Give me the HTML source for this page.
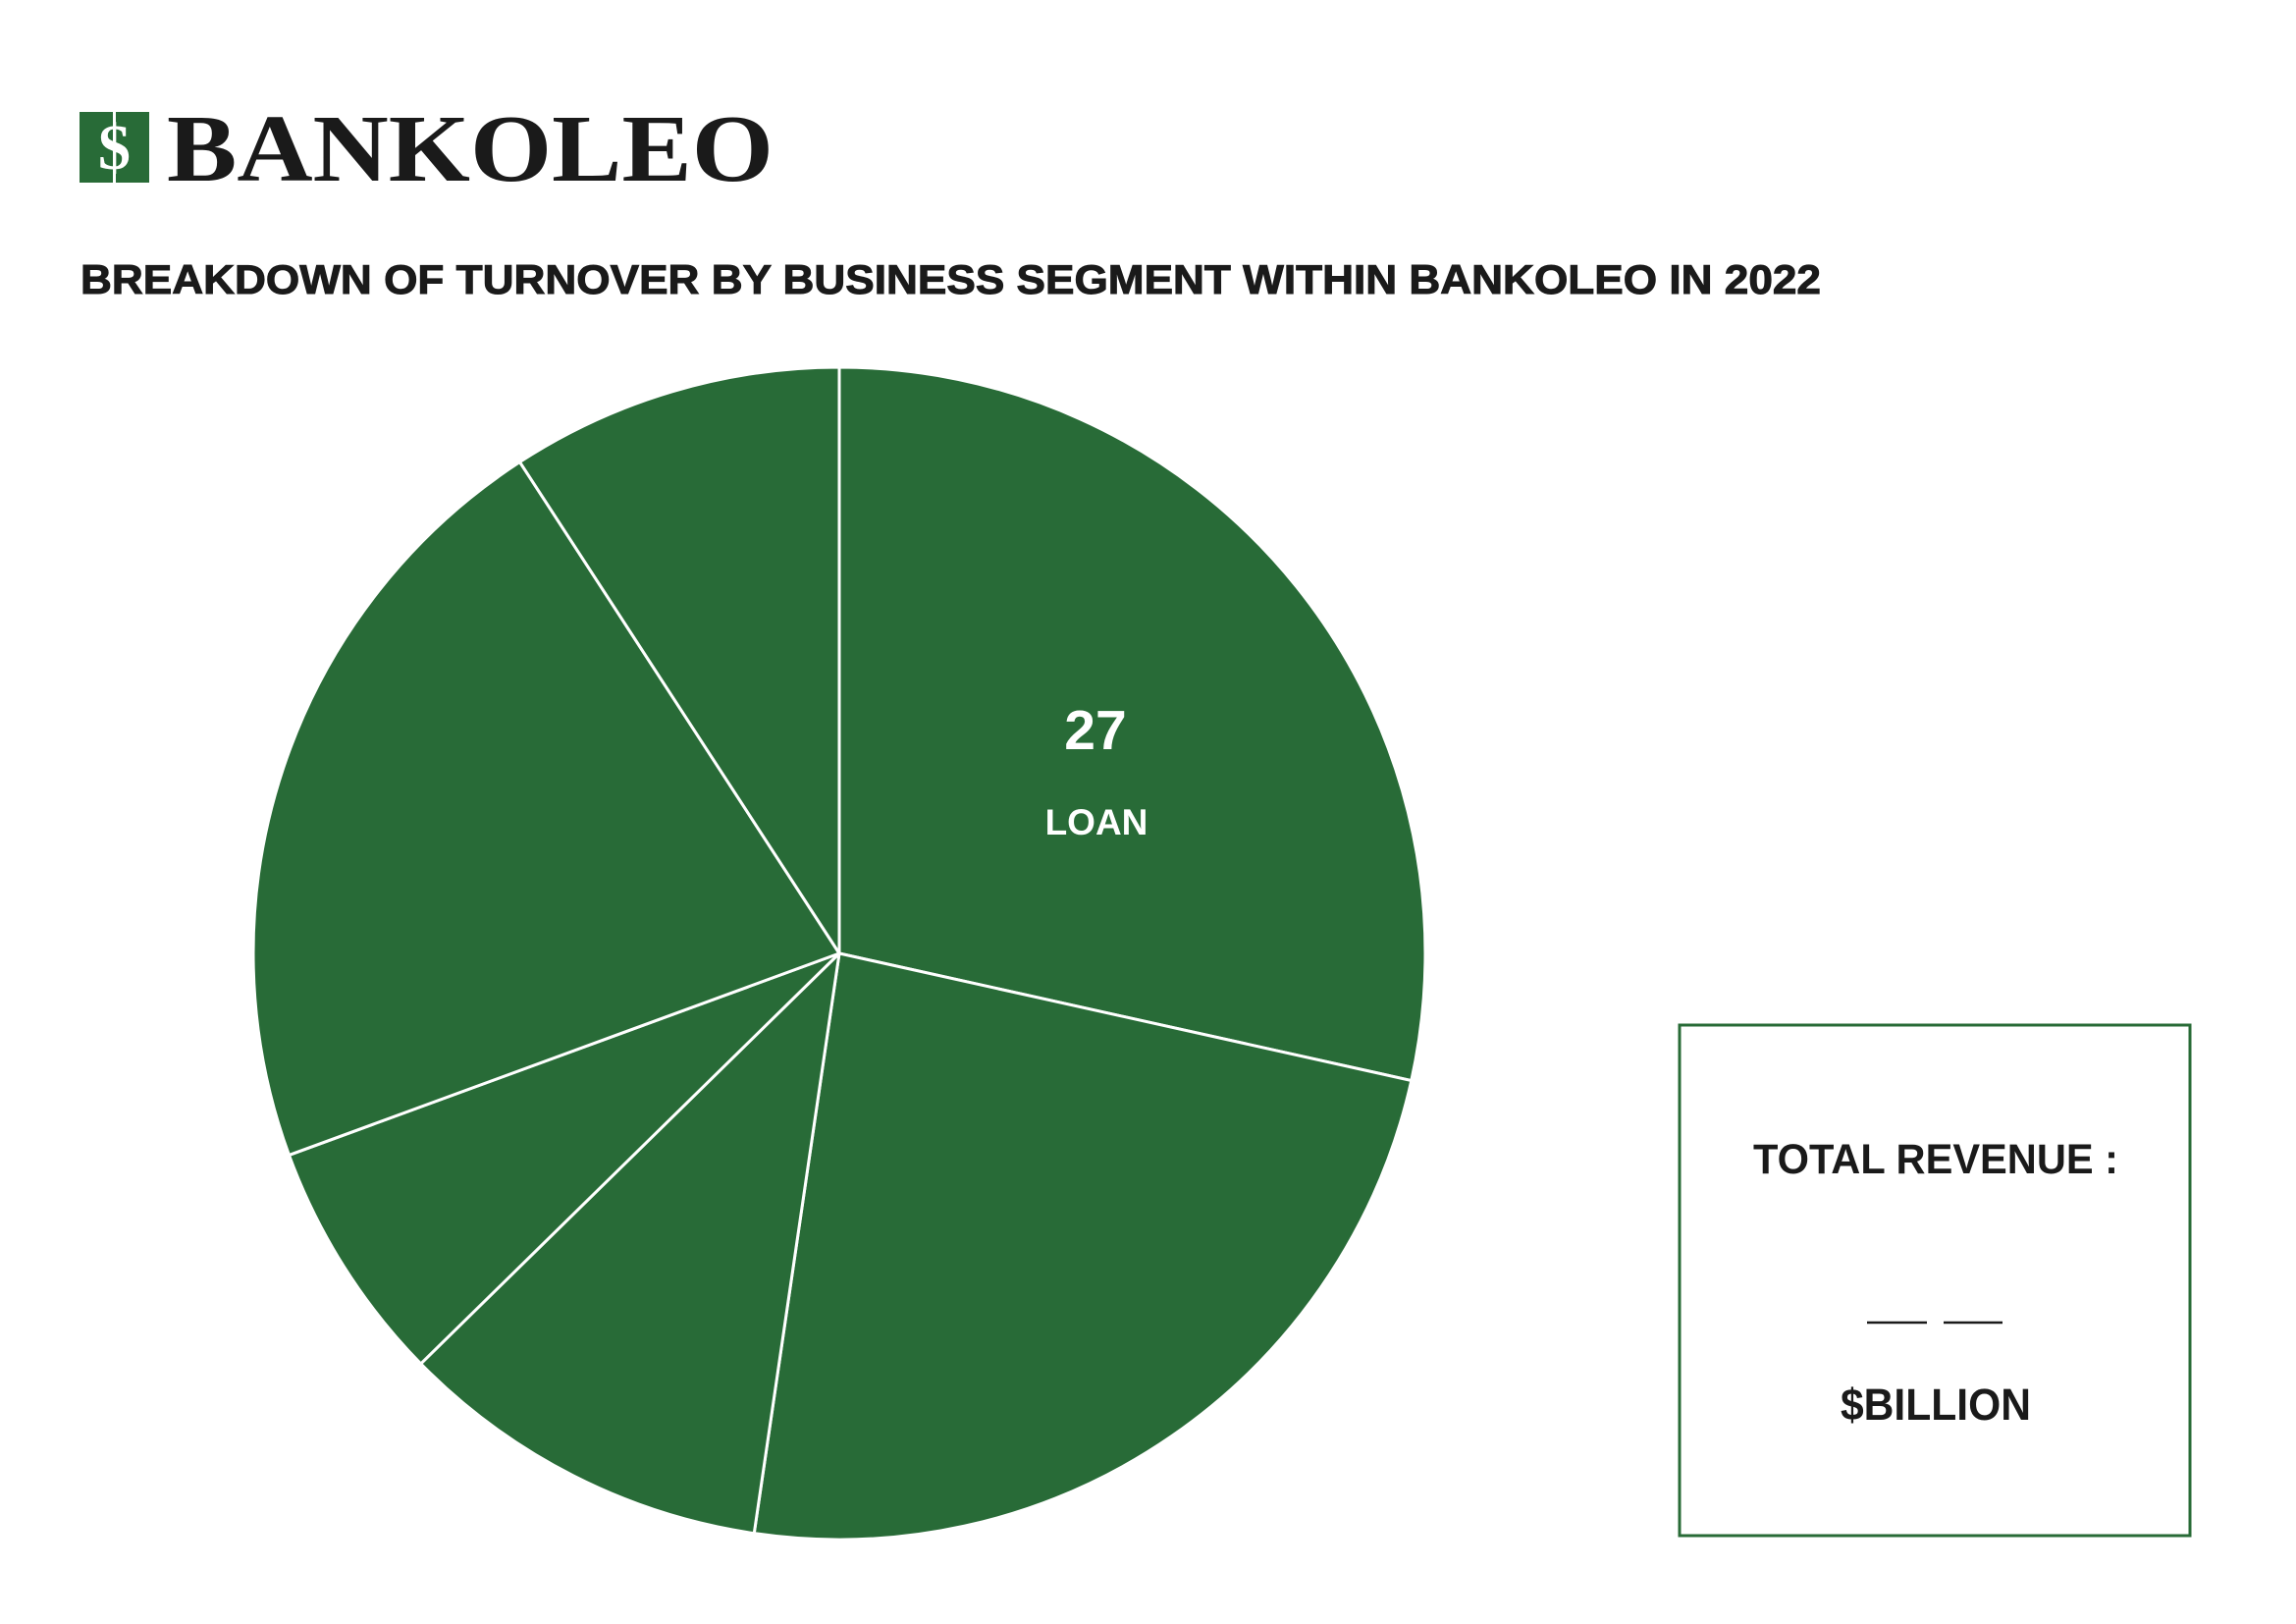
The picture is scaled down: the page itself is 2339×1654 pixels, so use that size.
<!DOCTYPE html>
<html><head><meta charset="utf-8"><style>
html,body{margin:0;padding:0;background:#fff;}
svg{display:block;}
</style></head><body>
<svg width="2339" height="1654" viewBox="0 0 2339 1654" xmlns="http://www.w3.org/2000/svg">
<rect width="2339" height="1654" fill="#fff"/>
<g>
<rect x="81" y="114" width="71" height="72" fill="#286b37"/>
<line x1="116.5" y1="114" x2="116.5" y2="186" stroke="#fff" stroke-width="3"/>
<text x="116.5" y="172" font-family="Liberation Serif, serif" font-weight="bold" font-size="66" fill="#fff" text-anchor="middle">$</text>
<text x="170" y="184" font-family="Liberation Serif, serif" font-weight="bold" font-size="98" fill="#1a1a1a" textLength="618" lengthAdjust="spacingAndGlyphs">BANKOLEO</text>
</g>
<text x="82" y="299" font-family="Liberation Sans, sans-serif" font-weight="bold" font-size="42" fill="#1a1a1a" stroke="#1a1a1a" stroke-width="1" textLength="1773" lengthAdjust="spacingAndGlyphs">BREAKDOWN OF TURNOVER BY BUSINESS SEGMENT WITHIN BANKOLEO IN 2022</text>
<g id="pie"></g>
<text x="1116" y="763" font-family="Liberation Sans, sans-serif" font-weight="bold" font-size="57" fill="#fff" text-anchor="middle">27</text>
<text x="1117" y="850" font-family="Liberation Sans, sans-serif" font-weight="bold" font-size="37" fill="#fff" text-anchor="middle">LOAN</text>
<rect x="1711" y="1044" width="520" height="520" fill="none" stroke="#286b37" stroke-width="3"/>
<text x="1972" y="1195" font-family="Liberation Sans, sans-serif" font-weight="bold" font-size="43" fill="#1a1a1a" text-anchor="middle" textLength="372" lengthAdjust="spacingAndGlyphs">TOTAL REVENUE :</text>
<line x1="1902" y1="1347" x2="1963" y2="1347" stroke="#1a1a1a" stroke-width="2.5"/>
<line x1="1980" y1="1347" x2="2040" y2="1347" stroke="#1a1a1a" stroke-width="2.5"/>
<text x="1972" y="1446" font-family="Liberation Sans, sans-serif" font-weight="bold" font-size="45" fill="#1a1a1a" text-anchor="middle" textLength="194" lengthAdjust="spacingAndGlyphs">$BILLION</text>
</svg>
<script>
const segments = ["Loan", "Segment 2", "Segment 3", "Segment 4", "Segment 5", "Segment 6"];
const values = [27, 22.6, 9.8, 6.4, 20.3, 8.7];
const cx = 855, cy = 971, r = 597;
const g = document.getElementById('pie');
const NS = 'http://www.w3.org/2000/svg';
const total = values.reduce((a, b) => a + b, 0);
function pt(a){ return [cx + r*Math.sin(a), cy - r*Math.cos(a)]; }
let acc = 0;
values.forEach((v, i) => {
  const a0 = acc / total * 2 * Math.PI;
  acc += v;
  const a1 = acc / total * 2 * Math.PI;
  const p0 = pt(a0), p1 = pt(a1);
  const large = (a1 - a0) > Math.PI ? 1 : 0;
  const path = document.createElementNS(NS, 'path');
  path.setAttribute('d', `M${cx},${cy} L${p0[0]},${p0[1]} A${r},${r} 0 ${large} 1 ${p1[0]},${p1[1]} Z`);
  path.setAttribute('fill', '#286b37');
  path.setAttribute('stroke', '#fff');
  path.setAttribute('stroke-width', '3');
  path.setAttribute('stroke-linejoin', 'round');
  
  
  g.appendChild(path);
});
</script>
</body></html>
